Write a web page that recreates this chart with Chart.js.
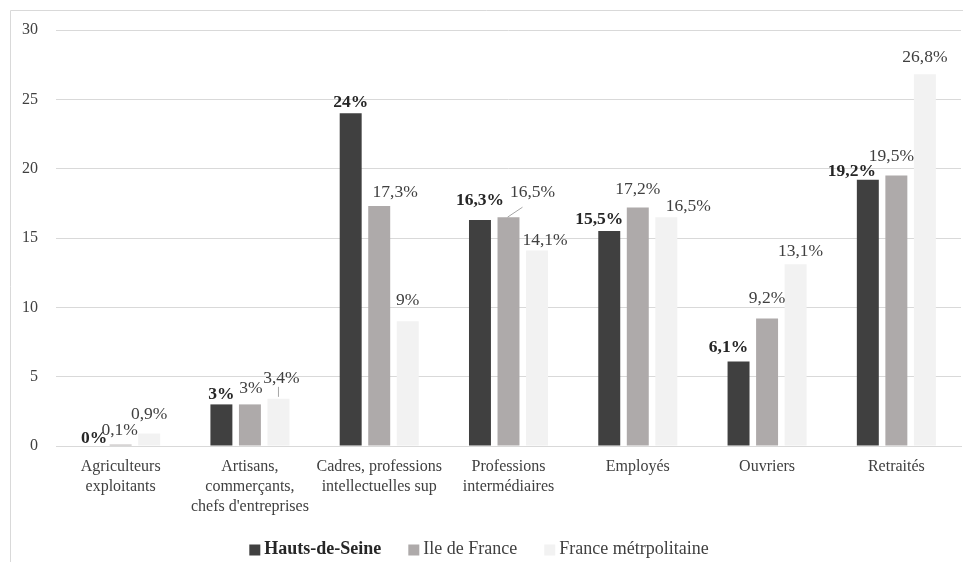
<!DOCTYPE html>
<html>
<head>
<meta charset="utf-8">
<script src="https://cdn.jsdelivr.net/npm/chart.js@4"></script>
<style>
  html, body { margin: 0; padding: 0; background: #ffffff; }
  #wrap { width: 963px; height: 570px; position: relative; }
</style>
</head>
<body>
<div id="wrap"><canvas id="c" width="963" height="570"></canvas></div>
<script>
// ---- Data ----
const categories = [
  ["Agriculteurs", "exploitants"],
  ["Artisans,", "commerçants,", "chefs d'entreprises"],
  ["Cadres, professions", "intellectuelles sup"],
  ["Professions", "intermédiaires"],
  ["Employés"],
  ["Ouvriers"],
  ["Retraités"]
];
const seriesNames = ["Hauts-de-Seine", "Ile de France", "France métrpolitaine"];
const hautsDeSeine = [0, 3, 24, 16.3, 15.5, 6.1, 19.2];
const ileDeFrance = [0.1, 3, 17.3, 16.5, 17.2, 9.2, 19.5];
const franceMetro = [0.9, 3.4, 9, 14.1, 16.5, 13.1, 26.8];
const yTicks = [0, 5, 10, 15, 20, 25, 30];

// ---- Style ----
const colors = ["#404040", "#AEAAAA", "#F2F2F2"];
const serif = "'Liberation Serif', 'DejaVu Serif', serif";
// label nudges [dx, dy] of text centre relative to bar top centre
const labelNudge = [
  [[2, -8], [0, -10], [0, -11], [0, -19], [-10, -12], [-10, -14], [-16, -8]],
  [[-1, -14], [1, -16], [16, -14], [24, -25], [0, -18], [0, -20], [-5, -19]],
  [[0, -19], [3, -20], [0, -21], [8, -10], [22, -11], [5, -13], [0, -17]]
];
// leader lines: dataset, index, [x1,y1] from bar top centre, [x2,y2]
const leaders = [
  { ds: 2, i: 1, from: [0, -2], to: [0, -12] },
  { ds: 1, i: 3, from: [-1, 0], to: [14, -10] }
];

function fmt(v) { return String(v).replace('.', ',') + '%'; }

const labelPlugin = {
  id: 'labelPlugin',
  afterDatasetsDraw(chart) {
    const ctx = chart.ctx;
    ctx.save();
    chart.data.datasets.forEach((ds, di) => {
      const meta = chart.getDatasetMeta(di);
      meta.data.forEach((bar, i) => {
        const v = ds.data[i];
        const n = labelNudge[di][i];
        ctx.font = (di === 0 ? 'bold ' : '') + '17.5px ' + serif;
        ctx.fillStyle = di === 0 ? '#262626' : '#404040';
        ctx.textAlign = 'center';
        ctx.textBaseline = 'middle';
        ctx.fillText(fmt(v), bar.x + n[0], bar.y + n[1]);
      });
    });
    ctx.strokeStyle = '#A6A6A6';
    ctx.lineWidth = 1;
    leaders.forEach(l => {
      const bar = chart.getDatasetMeta(l.ds).data[l.i];
      ctx.beginPath();
      ctx.moveTo(bar.x + l.from[0], bar.y + l.from[1]);
      ctx.lineTo(bar.x + l.to[0], bar.y + l.to[1]);
      ctx.stroke();
    });
    ctx.restore();
  },
  afterDraw(chart) {
    const ctx = chart.ctx;
    ctx.save();
    // frame
    ctx.strokeStyle = '#D9D9D9';
    ctx.lineWidth = 1;
    ctx.beginPath();
    ctx.moveTo(10.5, 562);
    ctx.lineTo(10.5, 10.5);
    ctx.lineTo(963, 10.5);
    ctx.stroke();
    // legend
    const box = 11, gapBox = 4, gapItem = 27;
    const lf = '18px ' + serif;
    const widths = seriesNames.map((s, k) => {
      ctx.font = (k === 0 ? 'bold ' : '') + lf;
      return ctx.measureText(s).width;
    });
    const total = widths.reduce((a, w) => a + box + gapBox + w, 0) + gapItem * (seriesNames.length - 1);
    let x = 479 - total / 2;
    const yc = 549;
    seriesNames.forEach((s, k) => {
      ctx.fillStyle = colors[k];
      ctx.fillRect(x, yc - box / 2 + 1, box, box);
      x += box + gapBox;
      ctx.font = (k === 0 ? 'bold ' : '') + lf;
      ctx.fillStyle = k === 0 ? '#262626' : '#404040';
      ctx.textAlign = 'left';
      ctx.textBaseline = 'middle';
      ctx.fillText(s, x, yc);
      x += widths[k] + gapItem;
    });
    ctx.restore();
  }
};

new Chart(document.getElementById('c'), {
  type: 'bar',
  data: {
    labels: categories,
    datasets: [
      { label: seriesNames[0], data: hautsDeSeine, backgroundColor: colors[0] },
      { label: seriesNames[1], data: ileDeFrance, backgroundColor: colors[1] },
      { label: seriesNames[2], data: franceMetro, backgroundColor: colors[2] }
    ]
  },
  options: {
    responsive: false,
    animation: false,
    devicePixelRatio: 1,
    layout: { padding: { left: 10, top: 30, right: 2, bottom: 0 } },
    datasets: { bar: { categoryPercentage: 0.662, barPercentage: 0.77 } },
    plugins: { legend: { display: false }, tooltip: { enabled: false } },
    scales: {
      x: {
        grid: { display: false, drawTicks: false },
        border: { display: true, color: '#D9D9D9' },
        ticks: { color: '#404040', font: { family: serif, size: 16, lineHeight: 1.25 }, padding: 11, maxRotation: 0, autoSkip: false },
        afterFit(scale) { scale.height = 124; }
      },
      y: {
        min: 0, max: 30,
        afterBuildTicks(scale) { scale.ticks = yTicks.map(v => ({ value: v })); },
        grid: { color: '#D9D9D9', drawTicks: false },
        border: { display: false },
        ticks: { color: '#404040', font: { family: serif, size: 16 }, padding: 18 },
        afterFit(scale) { scale.width = 46; }
      }
    }
  },
  plugins: [labelPlugin]
});
</script>
</body>
</html>
